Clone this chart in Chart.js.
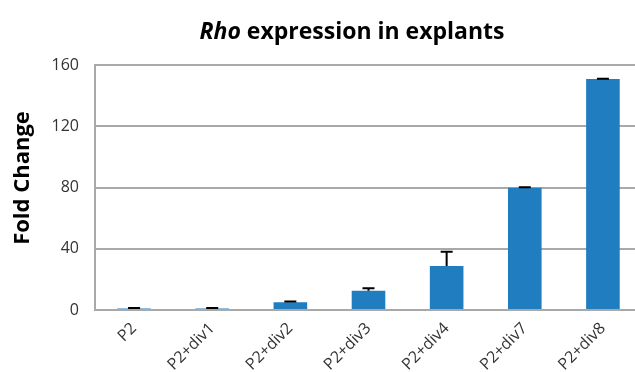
<!DOCTYPE html>
<html>
<head>
<meta charset="utf-8">
<script src="https://cdn.jsdelivr.net/npm/chart.js@4/dist/chart.umd.min.js"></script>
<style>
  html, body { margin: 0; padding: 0; background: #ffffff; overflow: hidden; }
  #wrap { position: relative; width: 642px; height: 372px; }
</style>
</head>
<body>
<div id="wrap"><canvas id="chart"></canvas></div>
<script>
// Rho fold change per explant stage (relative to P2)
const categories = ['P2', 'P2+div1', 'P2+div2', 'P2+div3', 'P2+div4', 'P2+div7', 'P2+div8'];
const foldChange = [1, 1, 5, 12.6, 28.7, 79.8, 150.8];
const errorUp = [0.3, 0.3, 0.5, 1.6, 9.4, 0.3, 0.3];
const yTicks = [0, 40, 80, 120, 160];

const FONT = "'Open Sans', 'DejaVu Sans', sans-serif";
const TEXT = '#333333';
const GRID = '#a9a9a9';

// Upward-only error bars with a cap, drawn on top of each bar
const errorBars = {
  id: 'errorBars',
  afterDatasetsDraw(chart) {
    const meta = chart.getDatasetMeta(0);
    const y = chart.scales.y;
    const ctx = chart.ctx;
    ctx.save();
    ctx.strokeStyle = '#000000';
    ctx.lineWidth = 2;
    meta.data.forEach((bar, i) => {
      const yBase = y.getPixelForValue(foldChange[i]);
      const yTop = y.getPixelForValue(foldChange[i] + errorUp[i]);
      ctx.beginPath();
      ctx.moveTo(bar.x, yBase);
      ctx.lineTo(bar.x, yTop);
      ctx.moveTo(bar.x - 6, yTop);
      ctx.lineTo(bar.x + 6, yTop);
      ctx.stroke();
    });
    ctx.restore();
  }
};

// Chart title (italic gene name) and rotated y-axis title
const titles = {
  id: 'titles',
  afterDraw(chart) {
    const ctx = chart.ctx;
    ctx.save();
    ctx.fillStyle = '#000000';
    ctx.textBaseline = 'alphabetic';
    const italicPart = 'Rho';
    const restPart = ' expression in explants';
    const size = 23;
    ctx.font = `italic bold ${size}px ${FONT}`;
    const w1 = ctx.measureText(italicPart).width;
    ctx.font = `bold ${size}px ${FONT}`;
    const w2 = ctx.measureText(restPart).width;
    const cx = 352;
    const x0 = cx - (w1 + w2) / 2;
    ctx.font = `italic bold ${size}px ${FONT}`;
    ctx.textAlign = 'left';
    ctx.fillText(italicPart, x0, 39);
    ctx.font = `bold ${size}px ${FONT}`;
    ctx.fillText(restPart, x0 + w1, 39);

    ctx.translate(23, 178);
    ctx.rotate(-Math.PI / 2);
    ctx.textAlign = 'center';
    ctx.textBaseline = 'middle';
    ctx.font = `bold 22px ${FONT}`;
    ctx.fillText('Fold Change', 0, 0);
    ctx.restore();
  }
};

new Chart(document.getElementById('chart'), {
  type: 'bar',
  data: {
    labels: categories,
    datasets: [{
      data: foldChange,
      backgroundColor: '#1F7DC0',
      borderWidth: 0,
      barPercentage: 0.43,
      categoryPercentage: 1.0
    }]
  },
  options: {
    responsive: true,
    maintainAspectRatio: false,
    animation: false,
    layout: { padding: { top: 65, left: 0, right: 0, bottom: 0 } },
    plugins: {
      legend: { display: false },
      tooltip: { enabled: false },
      title: { display: false }
    },
    scales: {
      x: {
        grid: { display: false, drawTicks: false },
        border: { display: true, color: GRID, width: 2 },
        ticks: {
          color: TEXT,
          font: { family: FONT, size: 16 },
          minRotation: 45,
          maxRotation: 45,
          padding: 9
        },
        afterFit(scale) { scale.height = 62; }
      },
      y: {
        min: 0,
        max: 160,
        afterBuildTicks(scale) { scale.ticks = yTicks.map(v => ({ value: v })); },
        grid: { color: GRID, lineWidth: 2, drawTicks: false },
        border: { display: true, color: GRID, width: 2 },
        ticks: {
          color: TEXT,
          font: { family: FONT, size: 16 },
          padding: 16
        },
        afterFit(scale) { scale.width = 95; }
      }
    }
  },
  plugins: [errorBars, titles]
});
</script>
</body>
</html>
